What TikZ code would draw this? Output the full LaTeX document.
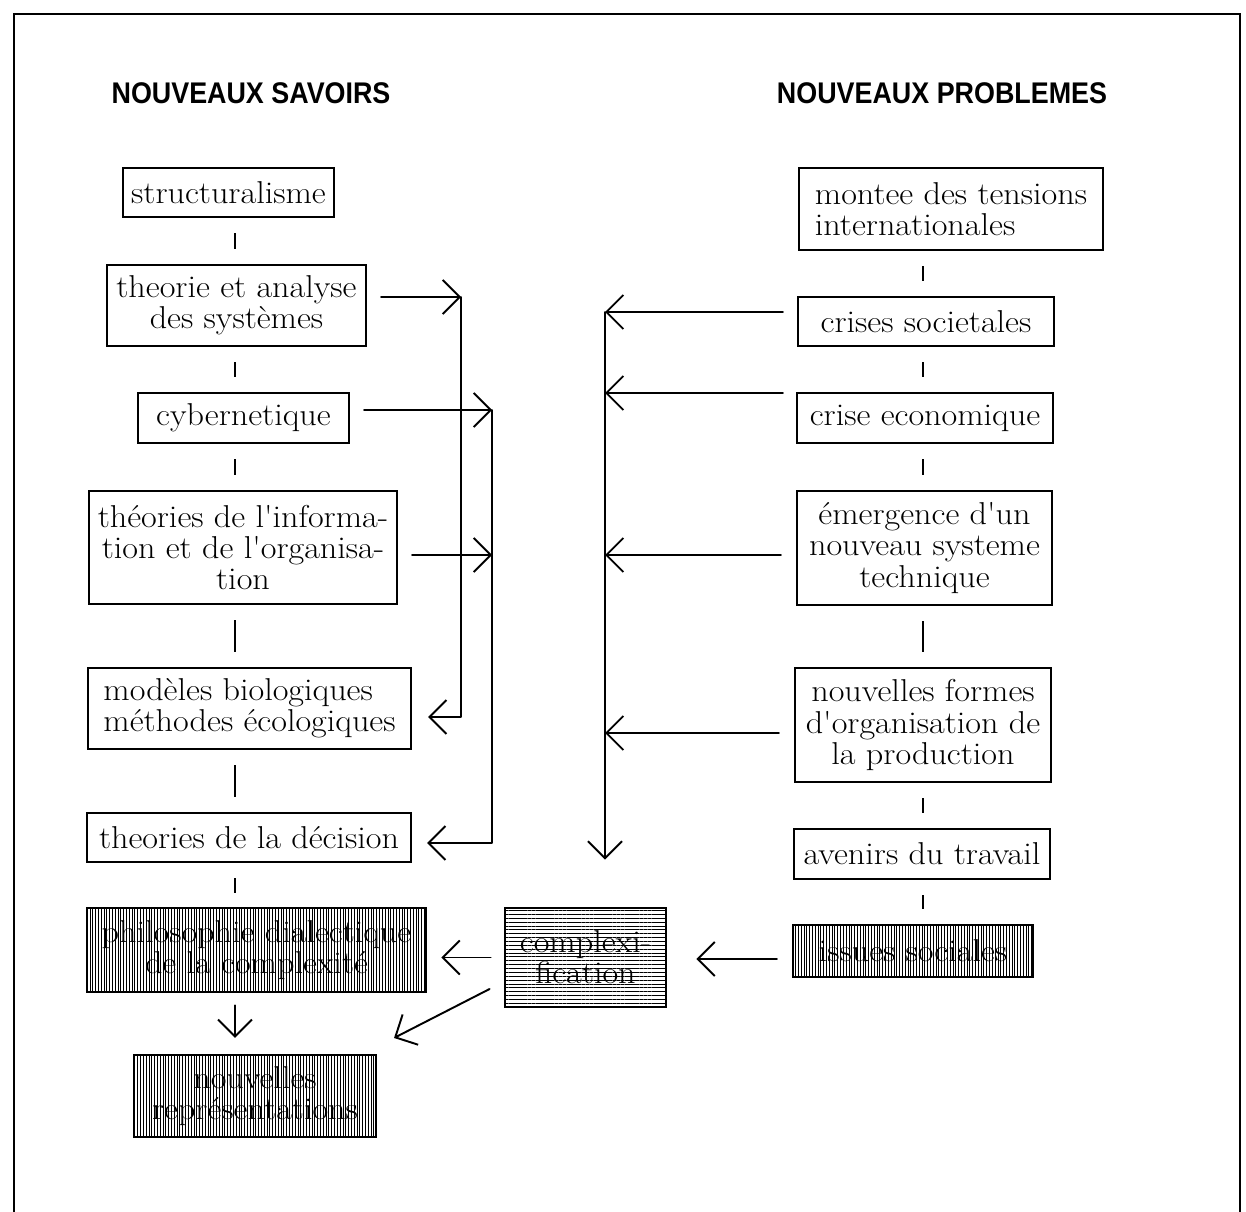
\documentclass[tikz,border=0pt]{standalone}
\usepackage{fontspec}
\newfontfamily\headfont[FakeStretch=0.9]{Liberation Sans}
\newfontfamily\boxfont[FakeStretch=1.08]{Latin Modern Roman}
\usepackage{tikz}
\usetikzlibrary{arrows.meta,patterns.meta,calc}

\tikzset{
  box/.style={draw,line width=1.2pt,inner sep=0pt,align=center,
    font=\boxfont\fontsize{18}{17.8}\selectfont},
  vhatch/.style={box,pattern={Lines[angle=90,distance=1.6pt,line width=0.5pt]}},
  hhatch/.style={box,pattern={Lines[angle=0,distance=2.2pt,line width=0.5pt]}},
  link/.style={line width=1.1pt,shorten <=0.3cm,shorten >=0.3cm},
  arr/.style={line width=1.1pt,line cap=round,line join=round,
    -{Straight Barb[length=0.34cm,width=0.68cm]}},
  title/.style={font=\headfont\bfseries\fontsize{17}{18}\selectfont}
}

\begin{document}
\begin{tikzpicture}[x=0.02cm,y=-0.02cm]
  \useasboundingbox (0,0) rectangle (1246,1212);
  \draw[line width=1.6pt] (14,1212) -- (14,14) -- (1240,14) -- (1240,1212);

  \node[title] (savoirs) at (251,93) {NOUVEAUX SAVOIRS};
  \node[title] (problemes) at (942,93) {NOUVEAUX PROBLEMES};

  % colonne de gauche
  \node[box,minimum width=4.22cm,minimum height=0.98cm] (struct) at (228.5,192.5) {structuralisme};
  \node[box,minimum width=5.18cm,minimum height=1.62cm] (theorie) at (236.5,305.5) {theorie et analyse\\des systèmes};
  \node[box,minimum width=4.22cm,minimum height=1.0cm] (cyber) at (243.5,418) {cybernetique};
  \node[box,minimum width=6.16cm,minimum height=2.26cm] (info) at (243,547.5) {théories de l'informa-\\tion et de l'organisa-\\tion};
  \node[box,align=left,minimum width=6.46cm,minimum height=1.62cm] (modeles) at (249.5,708.5) {modèles biologiques\\méthodes écologiques};
  \node[box,minimum width=6.48cm,minimum height=0.98cm] (decision) at (249,837.5) {theories de la décision};
  \node[vhatch,minimum width=6.78cm,minimum height=1.68cm] (philo) at (256.5,950) {philosophie dialectique\\de la complexité};
  \node[vhatch,minimum width=4.84cm,minimum height=1.64cm] (nouvrep) at (255,1096) {nouvelles\\représentations};

  % colonne de droite
  \node[box,align=left,minimum width=6.08cm,minimum height=1.64cm] (montee) at (951,209) {montee des tensions\\internationales};
  \node[box,minimum width=5.12cm,minimum height=0.98cm] (crises) at (926,321.5) {crises societales};
  \node[box,minimum width=5.12cm,minimum height=1.0cm] (eco) at (925,418) {crise economique};
  \node[box,minimum width=5.1cm,minimum height=2.28cm] (emerg) at (924.5,548) {émergence d'un\\nouveau systeme\\technique};
  \node[box,minimum width=5.12cm,minimum height=2.28cm] (formes) at (923,725) {nouvelles formes\\d'organisation de\\la production};
  \node[box,minimum width=5.12cm,minimum height=1.0cm] (avenirs) at (922,854) {avenirs du travail};
  \node[vhatch,minimum width=4.8cm,minimum height=1.04cm] (issues) at (913,951) {issues sociales};

  \node[hhatch,minimum width=3.22cm,minimum height=1.98cm] (complex) at (585.5,957.5) {complexi-\\fication};

  \coordinate (lcol) at (235,0);
  \coordinate (rcol) at (923,0);
  \coordinate (busA) at (461,0);
  \coordinate (busB) at (492,0);
  \coordinate (busC) at (605,0);

  % traits verticaux
  \foreach \a/\b in {struct/theorie,theorie/cyber,cyber/info,info/modeles,modeles/decision,decision/philo}
    \draw[link] (\a.south -| lcol) -- (\b.north -| lcol);
  \foreach \a/\b in {montee/crises,crises/eco,eco/emerg,emerg/formes,formes/avenirs,avenirs/issues}
    \draw[link] (\a.south -| rcol) -- (\b.north -| rcol);

  % renvois a gauche
  \draw[arr,shorten <=0.28cm] ([yshift=0.17cm]theorie.east) -- ([yshift=0.17cm]theorie.east -| busA);
  \draw[arr,shorten >=0.32cm] ([yshift=0.17cm]theorie.east -| busA) |- ([yshift=-0.17cm]modeles.east);
  \draw[arr,shorten <=0.28cm] ([yshift=0.16cm]cyber.east) -- ([yshift=0.16cm]cyber.east -| busB);
  \draw[arr,shorten <=0.28cm] ([yshift=-0.15cm]info.east) -- ([yshift=-0.15cm]info.east -| busB);
  \draw[arr,shorten >=0.3cm] ([yshift=0.16cm]cyber.east -| busB) |- ([yshift=-0.11cm]decision.east);

  % renvois a droite
  \draw[arr,shorten <=0.28cm] ([yshift=0.19cm]crises.west) -- ([yshift=0.19cm]crises.west -| busC);
  \draw[arr,shorten <=0.26cm] ([yshift=0.5cm]eco.west) -- ([yshift=0.5cm]eco.west -| busC);
  \draw[arr,shorten <=0.3cm] ([yshift=-0.14cm]emerg.west) -- ([yshift=-0.14cm]emerg.west -| busC);
  \draw[arr,shorten <=0.3cm] ([yshift=-0.16cm]formes.west) -- ([yshift=-0.16cm]formes.west -| busC);
  \draw[arr,shorten >=0.96cm] ([yshift=0.19cm]crises.west -| busC) -- (complex.north -| busC);

  % bas
  \draw[arr,shorten <=0.3cm,shorten >=0.6cm] ([yshift=-0.16cm]issues.west) -- ([yshift=-0.16cm]issues.west -| complex.east);
  \draw[arr,shorten <=0.28cm,shorten >=0.3cm] (complex.west) -- (complex.west -| philo.east);
  \draw[arr] ([xshift=-0.3cm,yshift=-0.63cm]complex.west) -- ([xshift=0.34cm,yshift=0.32cm]nouvrep.north east);
  \draw[arr,shorten <=0.26cm,shorten >=0.32cm] (philo.south -| lcol) -- (nouvrep.north -| lcol);
\end{tikzpicture}
\end{document}
